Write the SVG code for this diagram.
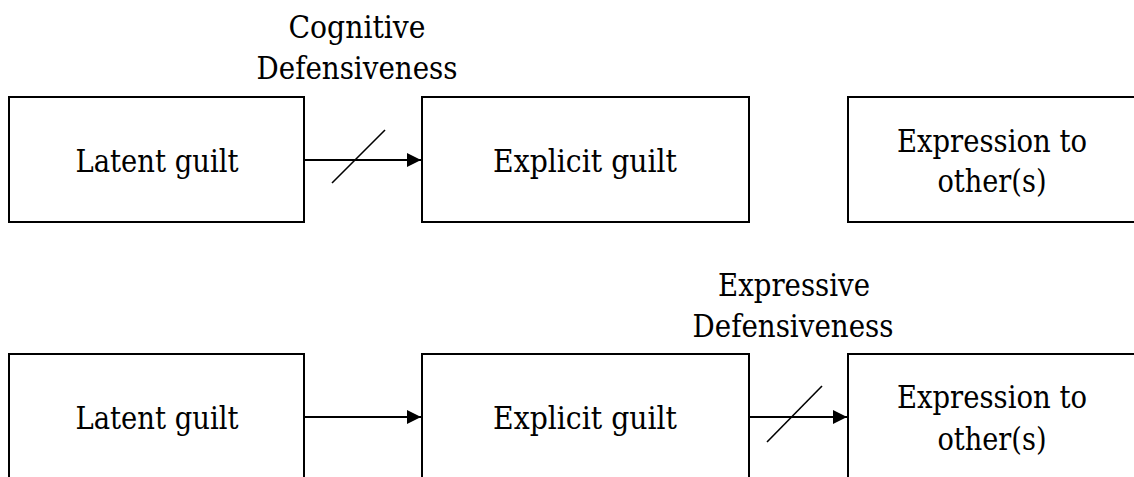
<svg xmlns="http://www.w3.org/2000/svg" width="1134" height="477" viewBox="0 0 1134 477">
  <defs>
    <style>
      .box { fill: #ffffff; stroke: #000000; stroke-width: 2; }
      .lbl { font-family: 'DejaVu Serif', serif; font-size: 31px; fill: #000000; text-anchor: middle; }
      .edge { stroke: #000000; stroke-width: 2; fill: none; }
      .slash { stroke: #000000; stroke-width: 1.6; fill: none; }
    </style>
    <marker id="arrow" viewBox="0 0 10 10" refX="10" refY="5" markerWidth="18" markerHeight="14" markerUnits="userSpaceOnUse" orient="auto">
      <path d="M0,0 L10,5 L0,10 Z" fill="#000000"/>
    </marker>
  </defs>
  <rect x="0" y="0" width="1134" height="477" fill="#ffffff"/>

  <!-- top row -->
  <g id="latent-top">
    <rect class="box" x="9" y="97" width="295" height="125"/>
    <text class="lbl" x="157" y="172" textLength="163" lengthAdjust="spacingAndGlyphs">Latent guilt</text>
  </g>
  <g id="explicit-top">
    <rect class="box" x="422" y="97" width="327" height="125"/>
    <text class="lbl" x="585" y="172" textLength="184" lengthAdjust="spacingAndGlyphs">Explicit guilt</text>
  </g>
  <g id="expression-top">
    <rect class="box" x="848" y="97" width="300" height="125"/>
    <text class="lbl" x="992" y="152" textLength="190" lengthAdjust="spacingAndGlyphs">Expression to</text>
    <text class="lbl" x="992" y="192" textLength="109" lengthAdjust="spacingAndGlyphs">other(s)</text>
  </g>
  <g id="cognitive-label">
    <text class="lbl" x="357" y="38" textLength="137" lengthAdjust="spacingAndGlyphs">Cognitive</text>
    <text class="lbl" x="357" y="79" textLength="201" lengthAdjust="spacingAndGlyphs">Defensiveness</text>
  </g>

  <!-- bottom row -->
  <g id="latent-bottom">
    <rect class="box" x="9" y="354" width="295" height="140"/>
    <text class="lbl" x="157" y="429" textLength="163" lengthAdjust="spacingAndGlyphs">Latent guilt</text>
  </g>
  <g id="explicit-bottom">
    <rect class="box" x="422" y="354" width="327" height="140"/>
    <text class="lbl" x="585" y="429" textLength="184" lengthAdjust="spacingAndGlyphs">Explicit guilt</text>
  </g>
  <g id="expression-bottom">
    <rect class="box" x="848" y="354" width="300" height="140"/>
    <text class="lbl" x="992" y="408" textLength="190" lengthAdjust="spacingAndGlyphs">Expression to</text>
    <text class="lbl" x="992" y="450" textLength="109" lengthAdjust="spacingAndGlyphs">other(s)</text>
  </g>
  <g id="expressive-label">
    <text class="lbl" x="794" y="296" textLength="152" lengthAdjust="spacingAndGlyphs">Expressive</text>
    <text class="lbl" x="793" y="337" textLength="201" lengthAdjust="spacingAndGlyphs">Defensiveness</text>
  </g>

  <!-- connectors -->
  <g id="connectors">
    <line class="edge" x1="304" y1="160" x2="421" y2="160" marker-end="url(#arrow)"/>
    <line class="slash" x1="332" y1="183" x2="385" y2="130"/>
    <line class="edge" x1="304" y1="417" x2="421" y2="417" marker-end="url(#arrow)"/>
    <line class="edge" x1="749" y1="417" x2="847" y2="417" marker-end="url(#arrow)"/>
    <line class="slash" x1="767" y1="442" x2="822" y2="386"/>
  </g>
</svg>
